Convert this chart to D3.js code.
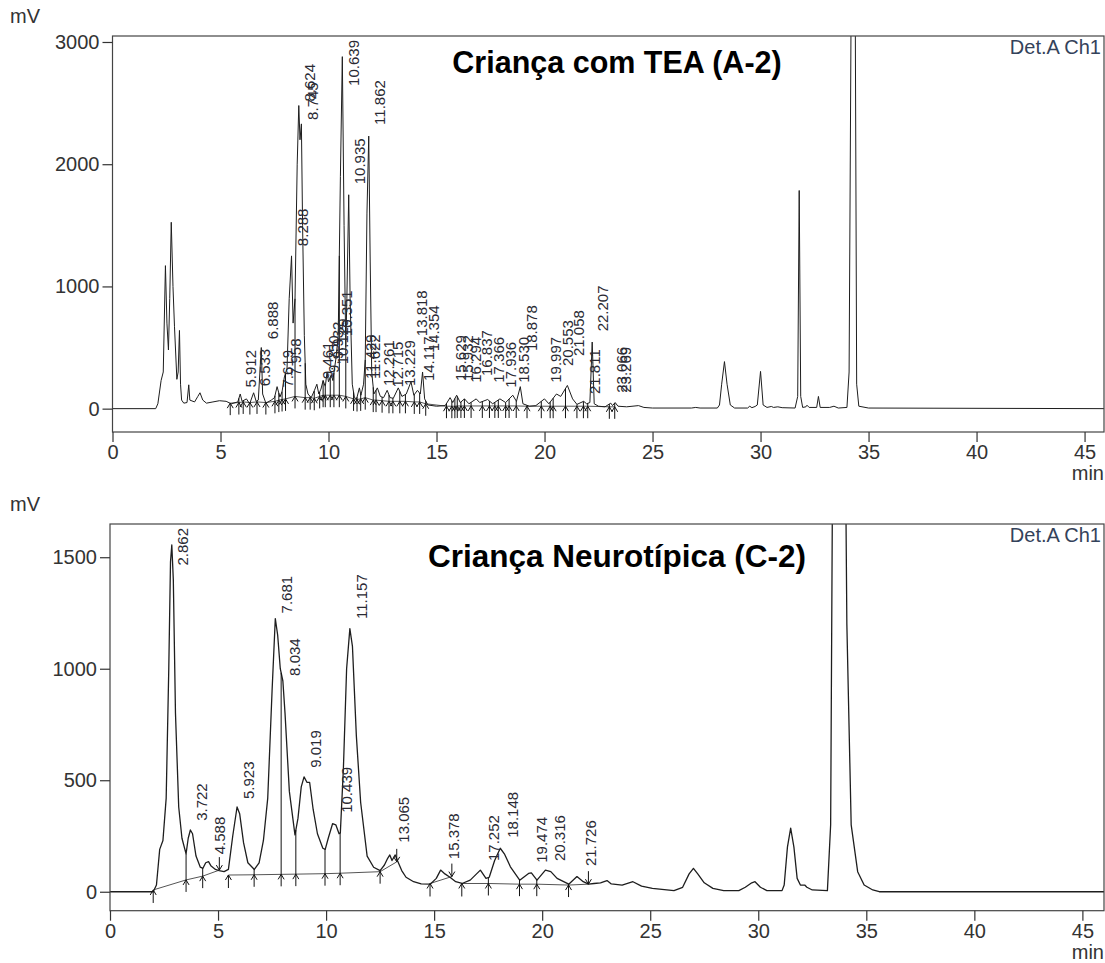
<!DOCTYPE html>
<html>
<head>
<meta charset="utf-8">
<script src="https://cdn.jsdelivr.net/npm/d3@7"></script>
<style>
  body { margin: 0; background: #fff; }
  svg text { font-family: "Liberation Sans", Arial, Helvetica, sans-serif; }
</style>
</head>
<body>
<svg id="chart" width="1105" height="963"></svg>
<script>
// ---------------- Chromatogram A-2 (Criança com TEA) ----------------
// Detector trace: [retention time (min), signal (mV)]
const traceA = [
  [0,0],[2.0,0],[2.1,40],[2.25,230],[2.35,300],[2.45,1170],[2.52,700],[2.59,480],[2.65,900],[2.72,1525],
  [2.8,1000],[2.87,670],[2.98,240],[3.04,300],[3.10,640],[3.15,200],[3.2,70],[3.3,45],[3.45,50],[3.53,195],
  [3.58,70],[3.8,55],[3.95,100],[4.05,130],[4.18,70],[4.35,45],[4.65,55],[4.95,65],[5.26,60],[5.5,40],
  [5.8,55],[5.912,120],[6.0,60],[6.2,80],[6.35,40],[6.533,130],[6.65,60],[6.75,70],[6.888,500],[6.95,120],
  [7.1,45],[7.35,70],[7.5,90],[7.619,180],[7.75,95],[7.85,140],[7.958,260],[8.08,330],[8.18,900],[8.288,1250],
  [8.36,700],[8.45,900],[8.55,2000],[8.624,2480],[8.68,2200],[8.745,2330],[8.8,1500],[8.88,600],[8.95,200],[9.05,120],
  [9.2,90],[9.35,150],[9.461,200],[9.55,120],[9.65,160],[9.75,230],[9.85,180],[9.932,300],[10.0,220],[10.129,280],
  [10.2,230],[10.351,420],[10.45,600],[10.55,1900],[10.639,2880],[10.72,1500],[10.8,500],[10.85,900],[10.935,1750],[11.0,900],
  [11.1,200],[11.2,90],[11.3,80],[11.429,170],[11.5,110],[11.622,200],[11.7,400],[11.78,1600],[11.862,2230],[11.93,1200],
  [12.0,300],[12.1,120],[12.261,170],[12.4,100],[12.55,90],[12.715,150],[12.85,90],[13.0,85],[13.229,170],[13.4,100],
  [13.6,120],[13.818,220],[13.95,110],[14.117,150],[14.25,120],[14.354,300],[14.45,80],[14.6,30],[15.0,20],[15.4,25],
  [15.629,90],[15.75,50],[15.932,110],[16.1,50],[16.294,80],[16.5,40],[16.837,80],[17.0,50],[17.366,75],[17.6,40],
  [17.936,80],[18.2,50],[18.53,110],[18.7,60],[18.878,180],[19.0,40],[19.3,20],[19.6,25],[19.997,80],[20.2,40],
  [20.553,120],[20.75,100],[21.058,190],[21.3,80],[21.5,35],[21.811,60],[21.95,40],[22.1,50],[22.207,545],[22.3,40],
  [22.5,20],[22.8,15],[23.066,45],[23.15,25],[23.269,50],[23.4,20],[23.8,15],[24.35,25],[24.6,10],[25,5],
  [26.8,5],[27.0,10],[27.2,5],[28.0,5],[28.1,30],[28.2,200],[28.33,385],[28.45,200],[28.6,30],[28.8,5],
  [29.4,5],[29.5,20],[29.6,8],[29.75,18],[29.85,30],[30.0,305],[30.12,30],[30.3,10],[30.5,18],[30.6,10],
  [30.8,15],[31.0,8],[31.6,5],[31.72,100],[31.79,1785],[31.86,100],[31.95,10],[32.1,15],[32.15,28],[32.25,10],
  [32.6,10],[32.68,100],[32.76,10],[33.2,10],[33.4,20],[33.6,5],[34.0,10],[34.1,300],[34.2,3500],[34.3,5000],
  [34.38,3500],[34.45,200],[34.55,20],[35,5],[46,0]
];
// Peak labels: retention time and the signal level the label rises from
const peakTimesA = ["5.912","6.533","6.888","7.619","7.958","8.288","8.624","8.745","9.461","9.750",
  "9.932","10.129","10.351","10.639","10.935","11.429","11.622","11.862","12.261","12.715",
  "13.229","13.818","14.117","14.354","15.629","15.932","16.294","16.837","17.366","17.936",
  "18.530","18.878","19.997","20.553","21.058","21.811","22.207","23.066","23.269"];
const peakLevelsA = [140,150,536,140,234,1297,2480,2330,209,260,
  372,330,560,2880,1803,209,209,2289,152,140,
  152,560,193,437,193,193,179,234,179,139,
  179,438,179,316,398,87,600,97,97];
// Integration events: time, baseline level (mV), kind
const eventTimesA = [5.45,5.85,6.05,6.36,6.69,7.1,7.52,7.7,7.85,8.01,8.45,8.92,9.15,9.34,9.59,9.75,9.85,10.08,10.25,10.5,
  10.8,11.16,11.32,11.49,11.7,12.07,12.2,12.48,12.8,12.98,13.3,13.56,13.97,14.22,14.5,15.46,15.71,15.85,15.96,16.13,
  16.29,16.6,17.12,17.45,17.7,17.86,18.2,18.36,18.69,19.19,19.85,20.26,20.4,20.97,21.5,21.8,22.0,23.0,23.25];
const eventBaseA = [45,50,55,50,55,50,60,70,75,80,100,90,90,85,100,110,110,110,110,110,
  100,80,75,80,90,70,70,65,60,60,60,60,55,55,40,20,20,20,22,22,
  22,22,22,22,22,22,22,22,22,20,20,20,20,20,20,20,20,15,15];
const eventKindA = eventTimesA.map(() => "drop");
const eventGroupA = eventTimesA.map(() => 1);

// ---------------- Chromatogram C-2 (Criança Neurotípica) ----------------
const traceC = [
  [0,0],[2.0,0],[2.15,30],[2.3,190],[2.45,230],[2.6,420],[2.72,1000],[2.8,1480],[2.86,1555],[2.93,1400],
  [3.03,800],[3.18,380],[3.33,240],[3.52,170],[3.62,240],[3.72,277],[3.82,260],[3.98,160],[4.18,110],[4.3,105],
  [4.43,130],[4.56,135],[4.68,115],[4.88,100],[5.05,95],[5.28,90],[5.48,100],[5.68,250],[5.88,380],[6.0,350],
  [6.18,220],[6.38,130],[6.68,100],[6.9,130],[7.1,230],[7.3,420],[7.5,900],[7.65,1225],[7.76,1150],[7.88,1000],
  [8.0,945],[8.1,800],[8.3,450],[8.56,255],[8.7,330],[8.85,470],[8.98,515],[9.12,490],[9.24,490],[9.4,370],
  [9.6,260],[9.85,195],[9.96,190],[10.1,240],[10.3,305],[10.45,300],[10.6,260],[10.66,265],[10.8,550],[10.95,1000],
  [11.1,1180],[11.22,1100],[11.4,700],[11.6,400],[11.9,160],[12.2,110],[12.5,95],[12.7,120],[12.85,150],[12.95,165],
  [13.05,140],[13.2,165],[13.3,140],[13.5,95],[13.7,65],[14.05,45],[14.4,35],[14.82,34],[15.1,60],[15.3,97],
  [15.5,80],[15.75,64],[16.0,45],[16.29,37],[16.67,52],[17.14,97],[17.4,60],[17.55,65],[17.8,140],[18.06,195],
  [18.25,170],[18.53,112],[18.96,52],[19.37,82],[19.5,85],[19.76,52],[20.15,97],[20.4,90],[20.69,60],[21.23,34],
  [21.61,68],[21.9,45],[22.15,34],[22.4,37],[22.7,40],[23.0,50],[23.2,35],[23.7,30],[24.2,45],[24.6,25],
  [25.1,15],[26.1,5],[26.5,20],[26.8,80],[27.0,105],[27.2,80],[27.5,40],[27.9,15],[28.4,5],[29.1,5],
  [29.4,20],[29.7,40],[29.85,45],[30.1,20],[30.4,5],[31.1,5],[31.2,30],[31.35,200],[31.5,285],[31.65,200],
  [31.8,60],[31.95,30],[32.15,30],[32.25,20],[32.5,8],[33.2,5],[33.35,300],[33.5,3000],[33.72,4000],[33.95,3000],
  [34.1,1200],[34.3,300],[34.6,90],[34.9,30],[35.3,8],[35.6,0],[46,0]
];
const peakTimesC = ["2.862","3.722","4.588","5.923","7.681","8.034","9.019","10.439","11.157","13.065",
  "15.378","17.252","18.148","19.474","20.316","21.726"];
const peakLevelsC = [1555,300,150,398,1230,950,538,336,1205,202,128,120,224,112,120,97];
const eventTimesC = [2.0,3.52,4.29,5.06, 5.48,6.67,7.92,8.6,9.95,10.65,12.5,13.27, 14.81,15.82, 16.28,17.51,18.95,19.75,21.22,22.14];
const eventBaseC  = [8,53,70,97, 75,76,78,79,81,83,90,134, 37,68, 37,37,34,34,30,34];
const eventKindC  = ["start","drop","drop","end", "start","drop","drop","drop","drop","drop","drop","end",
  "start","end", "start","drop","drop","drop","drop","end"];
const eventGroupC = [1,1,1,1, 2,2,2,2,2,2,2,2, 3,3, 4,4,4,4,4,4];

const xMajorTicks = [0,5,10,15,20,25,30,35,40,45];

// ---------------- drawing ----------------
const svg = d3.select("#chart");
const INK = "#333";

function valueAt(trace, t) {
  const i = d3.bisector(d => d[0]).left(trace, t);
  if (i <= 0) return trace[0][1];
  if (i >= trace.length) return trace[trace.length - 1][1];
  const a = trace[i - 1], b = trace[i];
  return a[1] + (b[1] - a[1]) * (t - a[0]) / (b[0] - a[0]);
}

function drawPanel(cfg, idx) {
  const g = svg.append("g");
  const x = d3.scaleLinear().domain(cfg.xDomain).range([cfg.left, cfg.right]);
  const y = d3.scaleLinear().domain(cfg.yDomain).range([cfg.bottom, cfg.top]);

  const clipId = "clip" + idx;
  g.append("clipPath").attr("id", clipId).append("rect")
    .attr("x", cfg.left).attr("y", cfg.top)
    .attr("width", cfg.right - cfg.left).attr("height", cfg.bottom - cfg.top);
  const plot = g.append("g").attr("clip-path", `url(#${clipId})`);

  // integration baselines, one polyline per group
  const events = cfg.eventTimes.map((t, i) => ({
    t, base: cfg.eventBase[i], kind: cfg.eventKind[i], group: cfg.eventGroup[i]
  }));
  const groups = d3.groups(events, d => d.group);
  const baseLine = d3.line().x(d => x(d.t)).y(d => y(d.base));
  groups.forEach(([, evs]) => {
    plot.append("path").attr("d", baseLine(evs))
      .attr("fill", "none").attr("stroke", "#555").attr("stroke-width", 1);
  });

  // detector trace
  plot.append("path").datum(cfg.trace)
    .attr("d", d3.line().x(d => x(d[0])).y(d => y(d[1])))
    .attr("fill", "none").attr("stroke", "#1e1e1e").attr("stroke-width", cfg.lineWidth)
    .attr("stroke-linejoin", "round");

  // integration event marks (drop lines and start/end arrows)
  events.forEach(ev => {
    const px = x(ev.t), pb = y(ev.base);
    let d;
    if (ev.kind === "drop") {
      const top = y(valueAt(cfg.trace, ev.t));
      d = `M${px},${top}V${pb + 12}M${px - 3},${pb + 5}L${px},${pb}L${px + 3},${pb + 5}`;
    } else if (ev.kind === "start") {
      d = `M${px},${pb + 13}V${pb}M${px - 3},${pb + 5}L${px},${pb}L${px + 3},${pb + 5}`;
    } else {
      d = `M${px},${pb - 13}V${pb}M${px - 3},${pb - 5}L${px},${pb}L${px + 3},${pb - 5}`;
    }
    plot.append("path").attr("d", d).attr("fill", "none")
      .attr("stroke", "#111").attr("stroke-width", 1);
  });

  // peak retention-time labels, written upward
  cfg.peakTimes.forEach((label, i) => {
    const px = x(+label) + 11;
    const txt = g.append("text")
      .attr("font-size", 15).attr("fill", "#2a2a33")
      .attr("dy", "0.35em")
      .text(label);
    const len = txt.node().getComputedTextLength();
    let py = y(cfg.peakLevels[i]) - 4;
    if (py - len < cfg.top + 4) py = cfg.top + 4 + len;
    txt.attr("transform", `translate(${px},${py}) rotate(-90)`);
  });

  // frame
  g.append("rect").attr("x", cfg.left).attr("y", cfg.top)
    .attr("width", cfg.right - cfg.left).attr("height", cfg.bottom - cfg.top)
    .attr("fill", "none").attr("stroke", "#444").attr("stroke-width", 1.2);

  // x axis
  const xMinor = d3.range(0, 46, 1);
  const axB = g.append("g").attr("transform", `translate(0,${cfg.bottom})`);
  axB.call(d3.axisBottom(x).tickValues(xMinor).tickSize(5).tickFormat(""));
  axB.call(d3.axisBottom(x).tickValues(xMajorTicks).tickSize(10).tickPadding(3).tickFormat(d3.format("d")));
  axB.select(".domain").remove();
  axB.selectAll("line").attr("stroke", "#333").attr("stroke-width", 1.2);
  axB.selectAll("text").attr("font-size", 20).attr("fill", INK).attr("font-family", null);

  // y axis
  const axL = g.append("g").attr("transform", `translate(${cfg.left},0)`);
  axL.call(d3.axisLeft(y).tickValues(cfg.yMinor).tickSize(5).tickFormat(""));
  axL.call(d3.axisLeft(y).tickValues(cfg.yMajor).tickSize(10).tickPadding(3).tickFormat(d3.format("d")));
  axL.select(".domain").remove();
  axL.selectAll("line").attr("stroke", "#333").attr("stroke-width", 1.2);
  axL.selectAll("text").attr("font-size", 20).attr("fill", INK).attr("font-family", null);

  // units
  g.append("text").attr("x", 10).attr("y", cfg.top - 13).attr("font-size", 20).attr("fill", INK).text("mV");
  g.append("text").attr("x", cfg.right).attr("y", cfg.bottom + 48).attr("text-anchor", "end")
    .attr("font-size", 20).attr("fill", INK).text("min");

  // channel tag and title
  g.append("text").attr("x", cfg.right - 3).attr("y", cfg.top + 18).attr("text-anchor", "end")
    .attr("font-size", 20).attr("fill", "#34425a").text("Det.A Ch1");
  g.append("text").attr("x", cfg.titleX).attr("y", cfg.titleY).attr("text-anchor", "middle")
    .attr("font-size", cfg.titleSize).attr("font-weight", "bold").attr("fill", "#000").text(cfg.title);
}

drawPanel({
  title: "Criança com TEA (A-2)", titleX: 617, titleY: 73, titleSize: 30.5,
  trace: traceA, peakTimes: peakTimesA, peakLevels: peakLevelsA,
  eventTimes: eventTimesA, eventBase: eventBaseA, eventKind: eventKindA, eventGroup: eventGroupA,
  xDomain: [0, 45.9], yDomain: [-191, 3049],
  yMajor: [0, 1000, 2000, 3000], yMinor: d3.range(0, 3001, 200),
  left: 112.5, right: 1104, top: 36, bottom: 432, lineWidth: 1
}, 0);

drawPanel({
  title: "Criança Neurotípica (C-2)", titleX: 617, titleY: 567, titleSize: 31.5,
  trace: traceC, peakTimes: peakTimesC, peakLevels: peakLevelsC,
  eventTimes: eventTimesC, eventBase: eventBaseC, eventKind: eventKindC, eventGroup: eventGroupC,
  xDomain: [0, 46.0], yDomain: [-85, 1649],
  yMajor: [0, 500, 1000, 1500], yMinor: d3.range(0, 1601, 100),
  left: 110, right: 1104, top: 524, bottom: 910.7, lineWidth: 1.3
}, 1);
</script>
</body>
</html>
